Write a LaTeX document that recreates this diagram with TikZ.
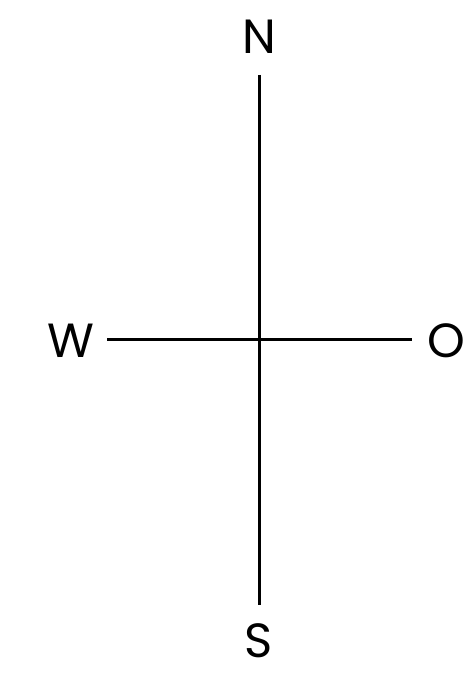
\documentclass[tikz,border=0pt]{standalone}
\usepackage{fontspec}
\setmainfont{Poppins}
\begin{document}
\begin{tikzpicture}[x=1pt,y=-1pt,
  lbl/.style={anchor=base,inner sep=0pt,font=\fontsize{48}{52}\selectfont},
  axis/.style={line width=3pt}]
\useasboundingbox (0,0) rectangle (463,687);
\node[lbl] (N) at (259,54) {N};
\node[lbl] (S) at (259,657) {S};
\node[lbl] (W) at (70.5,357) {W};
\node[lbl] (O) at (446,357) {O};
\coordinate (top) at (259,75);
\coordinate (bot) at (259,605);
\coordinate (left) at (107,339);
\coordinate (right) at (412,339);
\draw[axis] (top) -- (bot);
\draw[axis] (left) -- (right);
\end{tikzpicture}
\end{document}
